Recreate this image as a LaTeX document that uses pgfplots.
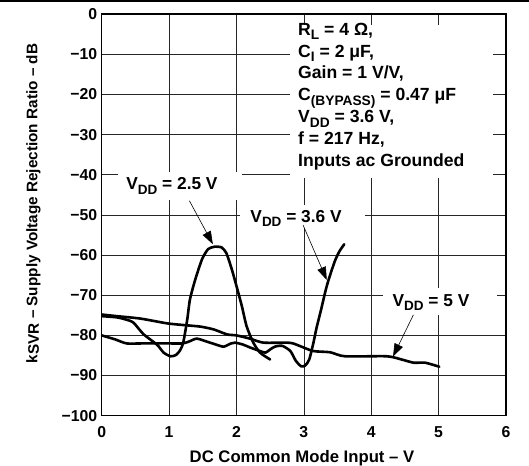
\documentclass[border=0pt]{standalone}
\usepackage{graphicx}
\usepackage{pgfplots}
\pgfplotsset{compat=1.18}
\usepackage{fontspec}
\setmainfont{Liberation Sans}
\usetikzlibrary{arrows.meta}
\newcommand{\F}{\fontsize{15.8}{18}\selectfont\bfseries}
\newcommand{\FA}{\fontsize{17.3}{20}\selectfont\bfseries}
\newcommand{\sub}[1]{\raisebox{-0.27em}{\scalebox{0.78}{#1}}}
\begin{document}
\begin{tikzpicture}[font=\F]
\useasboundingbox (-101.7pt,-49.3pt) rectangle (427.3pt,415.7pt);
\draw[line width=1.5pt] (-101.7pt,414.7pt) -- (427.3pt,414.7pt);
\begin{axis}[
  at={(0pt,0pt)}, anchor=south west,
  scale only axis, width=404.3pt, height=401.5pt,
  xmin=0, xmax=6, ymin=-100, ymax=0,
  xtick={0,1,2,3,4,5,6}, xticklabels={0,1,2,3,4,5,6},
  ytick={-100,-90,-80,-70,-60,-50,-40,-30,-20,-10,0},
  yticklabels={−100,−90,−80,−70,−60,−50,−40,−30,−20,−10,0},
  grid=major,
  major grid style={black!85, line width=0.7pt},
  axis line style={line width=1.5pt},
  tick style={draw=none},
  tick label style={font=\F},
  xticklabel style={yshift=-7pt},
  yticklabel style={xshift=-1pt},
  xlabel={DC Common Mode Input – V},
  ylabel={k\raisebox{-1.5pt}{SVR} – Supply Voltage Rejection Ratio – dB},
  xlabel style={font=\fontsize{16.7}{19}\selectfont\bfseries, at={(axis description cs:0.4954,-0.1066)}, anchor=center},
  ylabel style={font=\fontsize{15.3}{18}\selectfont\bfseries, at={(axis description cs:-0.1687,0.5285)}, anchor=center, rotate=0},
]
\fill[white] (axis cs:2.79,-2.7) rectangle (axis cs:5.81,-40.8);
\fill[white] (axis cs:0.24,-39.3) rectangle (axis cs:2.08,-46.3);
\fill[white] (axis cs:2.05,-47.5) rectangle (axis cs:3.91,-53.3);
\fill[white] (axis cs:4.18,-68.2) rectangle (axis cs:5.87,-74.9);

% VDD = 2.5 V
\addplot[black, line width=2.6pt, line join=round, line cap=round, no marks, smooth, tension=0.4] coordinates {
(0,-75.2) (0.22,-75.5) (0.35,-76) (0.47,-76.8) (0.62,-79.7) (0.82,-82.3)
(0.92,-84.3) (1.02,-85.2) (1.1,-84.9) (1.16,-83.8) (1.21,-81.8) (1.27,-76)
(1.31,-71) (1.39,-66) (1.49,-61) (1.58,-58.5) (1.68,-57.9) (1.78,-58.1)
(1.85,-59.5) (1.93,-63.5) (2.0,-67.7) (2.08,-72.7) (2.15,-77.7) (2.25,-81.8)
(2.35,-84.3) (2.5,-86)};
% VDD = 3.6 V
\addplot[black, line width=2.6pt, line join=round, line cap=round, no marks, smooth, tension=0.4] coordinates {
(0,-80) (0.2,-81) (0.37,-82) (0.6,-82) (1.0,-82) (1.2,-82) (1.3,-81.5)
(1.41,-80.8) (1.55,-81.5) (1.7,-82.3) (1.81,-82.8) (1.92,-82) (1.98,-81.8)
(2.1,-82.3) (2.2,-83) (2.35,-83.9) (2.43,-84.3) (2.5,-83.5) (2.57,-82.8)
(2.68,-82.6) (2.8,-83.9) (2.88,-86.3) (2.96,-87.7) (3.02,-87.5) (3.08,-86)
(3.14,-82) (3.19,-78) (3.25,-74) (3.32,-69) (3.37,-66) (3.46,-61.5)
(3.53,-59) (3.6,-57.3)};
% VDD = 5 V
\addplot[black, line width=2.6pt, line join=round, line cap=round, no marks, smooth, tension=0.4] coordinates {
(0,-74.8) (0.22,-75.2) (0.57,-75.8) (0.97,-77) (1.2,-77.4) (1.46,-77.8)
(1.66,-78.5) (1.86,-79.75) (2.0,-80) (2.2,-80.8) (2.4,-81.8) (2.75,-81.8)
(2.84,-82) (2.95,-82.7) (3.14,-83.9) (3.39,-84.2) (3.61,-85.2) (4.23,-85.2)
(4.45,-86) (4.63,-86.8) (4.8,-86.8) (5.01,-87.8)};

\node[anchor=north west, align=left, inner sep=0pt, font=\fontsize{17.6}{21.9}\selectfont\bfseries]
  at (axis cs:2.913,-2.1)
  {R\sub{L} = 4 Ω,\\
   C\sub{I} = 2 μF,\\
   Gain = 1 V/V,\\
   C\sub{(BYPASS)} = 0.47 μF\\
   V\sub{DD} = 3.6 V,\\
   f = 217 Hz,\\
   Inputs ac Grounded};
\node[font=\FA] at (axis cs:1.043,-42.8) {V\sub{DD} = 2.5 V};
\node[font=\FA] at (axis cs:2.884,-50.9) {V\sub{DD} = 3.6 V};
\node[font=\FA] at (axis cs:4.887,-71.8) {V\sub{DD} = 5 V};

\draw[line width=0.6pt, -{Triangle[length=13pt,width=9pt]}] (axis cs:1.301,-46.45) -- (axis cs:1.65,-57.3);
\draw[line width=0.6pt, -{Triangle[length=13pt,width=9pt]}] (axis cs:2.988,-52.5) -- (axis cs:3.34,-66.2);
\draw[line width=0.6pt, -{Triangle[length=13pt,width=9pt]}] (axis cs:4.625,-74.9) -- (axis cs:4.323,-85.3);
\end{axis}
\end{tikzpicture}
\end{document}
